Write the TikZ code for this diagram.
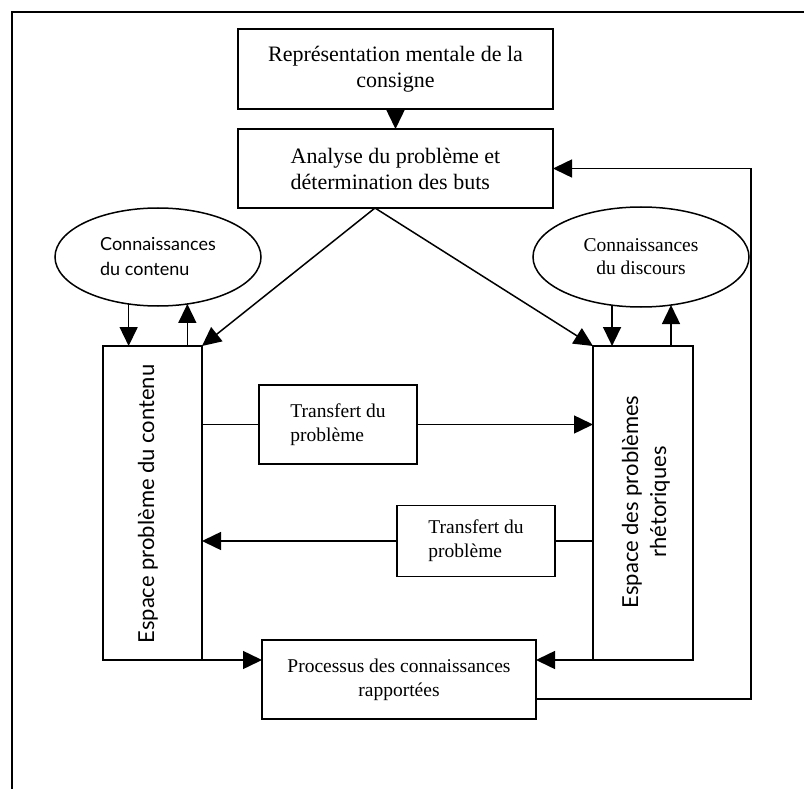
\documentclass[tikz,border=0pt]{standalone}
\usepackage{fontspec}
\setmainfont{Liberation Serif}
\newfontfamily\sansf{Lato}
\usetikzlibrary{arrows.meta,shapes.geometric}
\begin{document}
\begin{tikzpicture}[x=1pt,y=-1pt,line width=1.5pt,
  box/.style={draw,rectangle,inner sep=0pt,outer sep=0pt,align=center},
  big/.style={font=\fontsize{22}{26}\selectfont},
  small/.style={font=\fontsize{19.5}{24}\selectfont},
  ell/.style={draw,ellipse,inner sep=0pt,outer sep=0pt},
  vtext/.style={rotate=90,inner sep=0pt,align=center,font=\sansf\fontsize{22}{28}\selectfont},
  arr/.style={-{Triangle[length=19pt,width=18pt]}}]
\useasboundingbox (0,0) rectangle (804,789);
% frame
\coordinate (f1) at (12,789);
\coordinate (f2) at (12,12);
\coordinate (f3) at (804,12);
\draw (f1) -- (f2) -- (f3);
% boxes
\node[box,big,minimum width=315pt,minimum height=80pt] (rep) at (395.5,69) {Représentation mentale de la\\consigne};
\node[box,big,align=left,minimum width=315pt,minimum height=79pt] (ana) at (395.5,168.5) {Analyse du problème et\\détermination des buts};
\node[ell,minimum width=206pt,minimum height=98pt,align=left,font=\sansf\fontsize{18}{25}\selectfont] (lell) at (158,257) {Connaissances\\du contenu};
\node[ell,small,align=center,minimum width=216pt,minimum height=100pt,font=\fontsize{19.5}{23}\selectfont] (rell) at (641,257) {Connaissances\\du discours};
\node[box,minimum width=99pt,minimum height=314pt] (lbox) at (152.5,503) {};
\node[box,minimum width=100pt,minimum height=314pt] (rbox) at (643,503) {};
\node[vtext] (ltxt) at (148,504) {Espace problème du contenu};
\node[vtext] (rtxt) at (646,502) {Espace des problèmes\\rhétoriques};
\node[box,small,align=left,minimum width=158pt,minimum height=79pt] (t1) at (338,424.5) {Transfert du\\problème};
\node[box,small,align=left,minimum width=158pt,minimum height=71pt] (t2) at (476,541) {Transfert du\\problème};
\node[box,small,minimum width=274pt,minimum height=79pt] (proc) at (399,679.5) {Processus des connaissances\\rapportées};
% connectors
\coordinate (fork) at (375,208);
\coordinate (fb) at (751,699);
\draw[arr] (rep.south) -- (ana.north);
\draw[arr] (fork) -- (lbox.north east);
\draw[arr] (fork) -- (rbox.north west);
\draw[arr] (lell.238) -- (lell.238 |- lbox.north);
\draw[arr] (lell.302 |- lbox.north) -- (lell.302);
\draw[arr] (rell.239.9) -- (rell.239.9 |- rbox.north);
\draw[arr] (rell.302.9 |- rbox.north) -- (rell.302.9);
\draw (lbox.east |- t1.west) -- (t1.west);
\draw[arr] (t1.east) -- (t1.east -| rbox.west);
\draw (rbox.west |- t2.east) -- (t2.east);
\draw[arr] (t2.west) -- (t2.west -| lbox.east);
\draw[arr] (lbox.south east) -- (lbox.south east -| proc.west);
\draw[arr] (rbox.south west) -- (rbox.south west -| proc.east);
\draw[arr] (proc.east |- fb) -- (fb) |- (ana.east);
\end{tikzpicture}
\end{document}
